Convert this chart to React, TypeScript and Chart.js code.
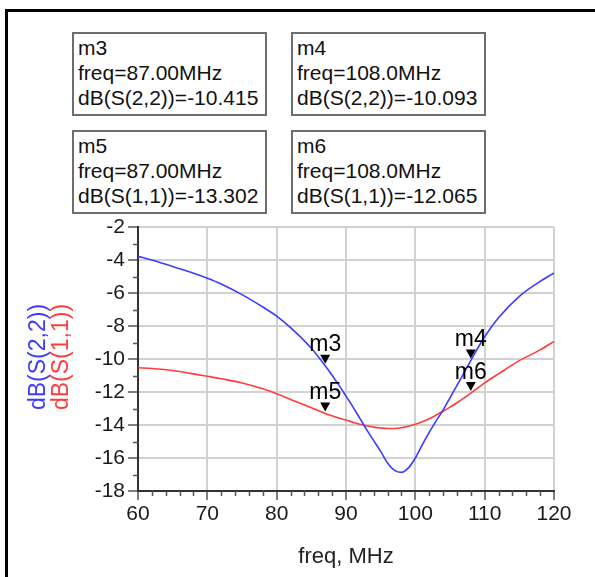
import React, { useEffect, useRef } from "react";
import { Chart, registerables } from "chart.js";

Chart.register(...registerables);

// ---- data ----
const freq = [60, 62, 65, 68, 70, 72, 75, 78, 80, 82, 85, 87, 89, 90, 91, 92, 93, 94, 95, 96, 97, 98, 99, 100, 101, 102, 103, 104, 105, 106, 107, 108, 110, 112, 115, 118, 120];
const dbS22 = [-3.78, -4.0, -4.4, -4.8, -5.1, -5.45, -6.1, -6.85, -7.4, -8.1, -9.35, -10.415, -11.6, -12.25, -12.9, -13.6, -14.3, -14.95, -15.6, -16.3, -16.75, -16.87, -16.6, -16.0, -15.2, -14.45, -13.75, -13.1, -12.35, -11.6, -10.85, -10.093, -8.65, -7.5, -6.2, -5.3, -4.79];
const dbS11 = [-10.53, -10.58, -10.7, -10.9, -11.05, -11.2, -11.45, -11.8, -12.1, -12.45, -12.95, -13.302, -13.58, -13.7, -13.83, -13.95, -14.05, -14.13, -14.18, -14.21, -14.21, -14.17, -14.08, -13.95, -13.8, -13.62, -13.4, -13.17, -12.92, -12.65, -12.37, -12.065, -11.45, -10.9, -10.1, -9.45, -8.93];

const traceNames = ["dB(S(2,2))", "dB(S(1,1))"];
const traceColors = ["#3c3cff", "#ff3c3c"];

const markerNames = ["m3", "m4", "m5", "m6"];
const markerFreqs = [87, 108, 87, 108];
const markerTraces = ["dB(S(2,2))", "dB(S(2,2))", "dB(S(1,1))", "dB(S(1,1))"];
const markerValues = [-10.415, -10.093, -13.302, -12.065];

const xMin = 60, xMax = 120, xStep = 10, xMinorStep = 2;
const yMin = -18, yMax = -2, yStep = 2, yMinorStep = 1;
const xTitle = "freq, MHz";

const FONT = "'Liberation Sans', Arial, sans-serif";

const extrasPlugin = {
  id: "extras",
  afterDraw(chart: any) {
    const ctx = chart.ctx;
    const xs = chart.scales.x;
    const ys = chart.scales.y;
    const area = chart.chartArea;
    ctx.save();
    // minor ticks
    ctx.strokeStyle = "#555";
    ctx.lineWidth = 1.5;
    ctx.beginPath();
    for (let v = yMin; v <= yMax + 1e-9; v += yMinorStep) {
      if (Math.abs(v % yStep) < 1e-9) continue;
      const py = Math.round(ys.getPixelForValue(v)) + 0.5;
      ctx.moveTo(area.left - 5, py);
      ctx.lineTo(area.left, py);
    }
    for (let f = xMin; f <= xMax + 1e-9; f += xMinorStep) {
      if (Math.abs(f % xStep) < 1e-9) continue;
      const px = Math.round(xs.getPixelForValue(f)) + 0.5;
      ctx.moveTo(px, area.bottom);
      ctx.lineTo(px, area.bottom + 5);
    }
    ctx.stroke();

    // markers
    ctx.fillStyle = "#000";
    ctx.font = `23px ${FONT}`;
    ctx.textAlign = "center";
    ctx.textBaseline = "alphabetic";
    for (let i = 0; i < markerNames.length; i++) {
      const px = xs.getPixelForValue(markerFreqs[i]);
      const py = ys.getPixelForValue(markerValues[i]);
      ctx.beginPath();
      ctx.moveTo(px - 5, py - 11);
      ctx.lineTo(px + 5, py - 11);
      ctx.lineTo(px, py - 2);
      ctx.closePath();
      ctx.fill();
      ctx.fillText(markerNames[i], px, py - 14.5);
    }

    // y title (two coloured lines)
    const cy = (area.top + area.bottom) / 2 - 2;
    const baseX = [45, 67.5];
    ctx.font = `23px ${FONT}`;
    for (let i = 0; i < traceNames.length; i++) {
      ctx.save();
      ctx.translate(baseX[i], cy);
      ctx.rotate(-Math.PI / 2);
      ctx.fillStyle = traceColors[i];
      ctx.fillText(traceNames[i], 0, 0);
      ctx.restore();
    }

    // x title
    ctx.fillStyle = "#222";
    ctx.font = `22px ${FONT}`;
    ctx.fillText(xTitle, (area.left + area.right) / 2, 563);
    ctx.restore();
  },
};

function MarkerBox({ i }: { i: number }) {
  const col = i % 2;
  const row = Math.floor(i / 2);
  const lefts = [72, 291];
  const tops = [32, 130];
  return (
    <div
      style={{
        position: "absolute",
        left: lefts[col],
        top: tops[row],
        width: 195,
        height: 84,
        boxSizing: "border-box",
        border: "2px solid #6e6e6e",
        padding: "1px 4px",
        font: `21px ${FONT}`,
        lineHeight: "25px",
        color: "#111",
        whiteSpace: "nowrap",
        background: "#fff",
      }}
    >
      <div>{markerNames[i]}</div>
      <div>freq={markerFreqs[i].toPrecision(4)}MHz</div>
      <div>
        {markerTraces[i]}={markerValues[i].toFixed(3)}
      </div>
    </div>
  );
}

export default function App() {
  const canvasRef = useRef<HTMLCanvasElement | null>(null);

  useEffect(() => {
    const canvas = canvasRef.current;
    if (!canvas) return;
    const chart = new Chart(canvas, {
      type: "line",
      data: {
        datasets: [
          {
            label: traceNames[0],
            data: freq.map((f, i) => ({ x: f, y: dbS22[i] })),
            borderColor: traceColors[0],
            borderWidth: 1.6,
            pointRadius: 0,
            cubicInterpolationMode: "monotone",
            fill: false,
          },
          {
            label: traceNames[1],
            data: freq.map((f, i) => ({ x: f, y: dbS11[i] })),
            borderColor: traceColors[1],
            borderWidth: 1.6,
            pointRadius: 0,
            cubicInterpolationMode: "monotone",
            fill: false,
          },
        ],
      },
      options: {
        responsive: false,
        animation: false,
        devicePixelRatio: 1,
        layout: { padding: { top: 227, right: 41, left: 0, bottom: 0 } },
        plugins: { legend: { display: false }, tooltip: { enabled: false }, title: { display: false } },
        scales: {
          x: {
            type: "linear",
            min: xMin,
            max: xMax,
            afterFit: (s: any) => {
              s.height = 86;
            },
            ticks: {
              stepSize: xStep,
              color: "#1a1a1a",
              font: { family: FONT, size: 21 },
              padding: 2,
              maxRotation: 0,
            },
            grid: {
              color: "#d2d2d2",
              lineWidth: 2,
              tickLength: 9,
              tickColor: "#555",
              tickWidth: 1.5,
            },
            border: { display: true, color: "#333", width: 2 },
          },
          y: {
            type: "linear",
            min: yMin,
            max: yMax,
            afterFit: (s: any) => {
              s.width = 138;
            },
            ticks: {
              stepSize: yStep,
              color: "#1a1a1a",
              font: { family: FONT, size: 21 },
              padding: 3,
            },
            grid: {
              color: "#d2d2d2",
              lineWidth: 2,
              tickLength: 10,
              tickColor: "#555",
              tickWidth: 1.5,
            },
            border: { display: true, color: "#333", width: 2 },
          },
        },
      },
      plugins: [extrasPlugin],
    } as any);
    return () => chart.destroy();
  }, []);

  return (
    <div
      style={{
        position: "absolute",
        left: 0,
        top: 0,
        width: 595,
        height: 577,
        overflow: "hidden",
        background: "#fff",
      }}
    >
      <div
        style={{
          position: "absolute",
          left: 5,
          top: 9,
          width: 800,
          height: 800,
          borderLeft: "3px solid #000",
          borderTop: "3px solid #000",
        }}
      />
      <canvas
        ref={canvasRef}
        width={595}
        height={577}
        style={{ position: "absolute", left: 0, top: 0, width: 595, height: 577 }}
      />
      {markerNames.map((_, i) => (
        <MarkerBox key={i} i={i} />
      ))}
    </div>
  );
}
